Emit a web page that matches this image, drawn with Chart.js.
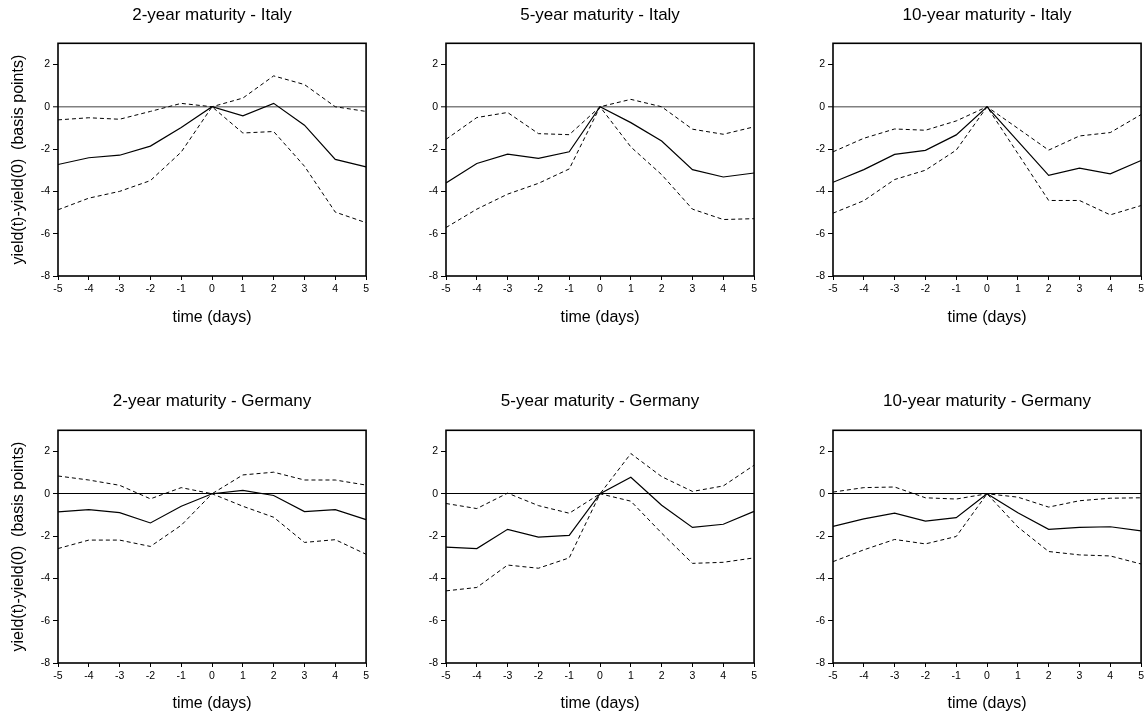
<!DOCTYPE html>
<html>
<head>
<meta charset="utf-8">
<title>Yield changes around announcements</title>
<script src="https://cdn.jsdelivr.net/npm/chart.js@4.4.0/dist/chart.umd.min.js"></script>
<style>
    body { margin: 0; background: #fff; width: 1147px; height: 718px; position: relative; overflow: hidden; }
    canvas { position: absolute; }
</style>
</head>
<body>
<canvas id="it2" width="372" height="330" style="left:0px;top:0px"></canvas>
<canvas id="it5" width="372" height="330" style="left:388px;top:0px"></canvas>
<canvas id="it10" width="372" height="330" style="left:775px;top:0px"></canvas>
<canvas id="de2" width="372" height="330" style="left:0px;top:387px"></canvas>
<canvas id="de5" width="372" height="330" style="left:388px;top:387px"></canvas>
<canvas id="de10" width="372" height="330" style="left:775px;top:387px"></canvas>
<script>
// dias em torno do evento
const days = [-5, -4, -3, -2, -1, 0, 1, 2, 3, 4, 5];
const yTicks = [-8, -6, -4, -2, 0, 2];

// Itália
const it2Mean  = [-2.73, -2.41, -2.29, -1.86, -0.98, 0, -0.43, 0.16, -0.87, -2.49, -2.84];
const it2Upper = [-0.62, -0.52, -0.59, -0.22, 0.16, 0, 0.41, 1.46, 1.05, 0.00, -0.22];
const it2Lower = [-4.87, -4.32, -4.00, -3.49, -2.14, 0, -1.24, -1.17, -2.81, -4.98, -5.48];

const it5Mean  = [-3.60, -2.68, -2.24, -2.44, -2.13, 0, -0.75, -1.62, -2.97, -3.32, -3.13];
const it5Upper = [-1.54, -0.51, -0.27, -1.27, -1.32, 0, 0.35, 0.00, -1.06, -1.30, -0.95];
const it5Lower = [-5.71, -4.84, -4.13, -3.62, -2.94, 0, -1.90, -3.21, -4.84, -5.33, -5.29];

const it10Mean  = [-3.57, -2.97, -2.25, -2.06, -1.33, 0, -1.62, -3.24, -2.90, -3.17, -2.54];
const it10Upper = [-2.13, -1.49, -1.05, -1.11, -0.67, 0, -1.02, -2.05, -1.38, -1.22, -0.37];
const it10Lower = [-5.03, -4.44, -3.44, -3.00, -2.05, 0, -2.21, -4.43, -4.43, -5.11, -4.67];

// Alemanha
const de2Mean  = [-0.86, -0.75, -0.89, -1.38, -0.59, 0, 0.16, -0.08, -0.84, -0.75, -1.22];
const de2Upper = [0.84, 0.65, 0.40, -0.24, 0.29, 0, 0.89, 1.02, 0.65, 0.65, 0.41];
const de2Lower = [-2.59, -2.19, -2.19, -2.49, -1.49, 0, -0.59, -1.11, -2.30, -2.17, -2.86];

const de5Mean  = [-2.52, -2.59, -1.68, -2.05, -1.97, 0, 0.78, -0.54, -1.59, -1.44, -0.83];
const de5Upper = [-0.46, -0.70, 0.03, -0.56, -0.92, 0, 1.90, 0.81, 0.11, 0.37, 1.35];
const de5Lower = [-4.59, -4.43, -3.37, -3.52, -3.03, 0, -0.35, -1.86, -3.29, -3.24, -3.03];

const de10Mean  = [-1.54, -1.19, -0.92, -1.29, -1.13, 0, -0.90, -1.68, -1.59, -1.56, -1.75];
const de10Upper = [0.08, 0.29, 0.32, -0.19, -0.25, 0, -0.16, -0.63, -0.33, -0.21, -0.19];
const de10Lower = [-3.21, -2.65, -2.16, -2.37, -2.02, 0, -1.57, -2.73, -2.89, -2.94, -3.32];

const FONT = '"Liberation Sans", Arial, sans-serif';

// moldura preta em volta da área do gráfico
const boxPlugin = {
    id: 'box',
    afterDraw(chart) {
        const a = chart.chartArea;
        const ctx = chart.ctx;
        ctx.save();
        ctx.strokeStyle = '#000';
        ctx.lineWidth = 1.6;
        ctx.strokeRect(a.left, a.top, a.right - a.left, a.bottom - a.top);
        ctx.restore();
    }
};

function toPoints(values) {
    return days.map((d, i) => ({ x: d, y: values[i] }));
}

function renderPanel(elementId, title, mean, upper, lower, opts) {
    const ctx = document.getElementById(elementId);
    if (!ctx) return;

    const dashed = data => ({
        data: toPoints(data),
        borderColor: '#000',
        borderWidth: 1,
        borderDash: [4, 3],
        pointRadius: 0,
        fill: false,
        tension: 0
    });

    new Chart(ctx, {
        type: 'line',
        data: {
            datasets: [
                { data: toPoints(mean), borderColor: '#000', borderWidth: 1.2, pointRadius: 0, fill: false, tension: 0 },
                dashed(upper),
                dashed(lower)
            ]
        },
        options: {
            responsive: false,
            animation: false,
            layout: { padding: { left: 0, right: 5, top: 0, bottom: 0 } },
            plugins: {
                legend: { display: false },
                tooltip: { enabled: false },
                title: {
                    display: true,
                    fullSize: false,
                    text: title,
                    color: '#000',
                    font: { family: FONT, size: 17, weight: 'normal' },
                    padding: { top: opts.titleTop, bottom: 43.3 - opts.titleTop - 20.4 }
                }
            },
            scales: {
                x: {
                    type: 'linear',
                    min: -5,
                    max: 5,
                    afterFit: scale => { scale.height = 54; },
                    border: { display: false },
                    grid: { drawOnChartArea: false, color: '#000', tickColor: '#000', tickLength: 4, tickWidth: 1 },
                    ticks: {
                        stepSize: 1,
                        autoSkip: false,
                        maxRotation: 0,
                        padding: 3,
                        color: '#000',
                        font: { family: FONT, size: 10.5 }
                    },
                    title: {
                        display: true,
                        text: 'time (days)',
                        color: '#000',
                        font: { family: FONT, size: 16 },
                        padding: { top: 0, bottom: opts.xTitleBottom }
                    }
                },
                y: {
                    type: 'linear',
                    min: -8,
                    max: 3,
                    afterFit: scale => { scale.width = 58; },
                    afterBuildTicks: scale => { scale.ticks = yTicks.map(v => ({ value: v })); },
                    border: { display: false },
                    grid: {
                        drawOnChartArea: true,
                        color: c => (c.tick && c.tick.value === 0) ? opts.zeroColor : 'rgba(0,0,0,0)',
                        lineWidth: c => (c.tick && c.tick.value === 0) ? opts.zeroWidth : 1,
                        tickColor: '#000',
                        tickLength: 5,
                        tickWidth: 1
                    },
                    ticks: {
                        padding: 3,
                        color: '#000',
                        font: { family: FONT, size: 10.5 }
                    },
                    title: {
                        display: opts.showYTitle,
                        text: 'yield(t)-yield(0)  (basis points)',
                        color: '#000',
                        font: { family: FONT, size: 16 },
                        padding: { top: 9, bottom: 0 }
                    }
                }
            }
        },
        plugins: [boxPlugin]
    });
}

const topRow = { titleTop: 4.8, xTitleBottom: 3, zeroColor: '#808080', zeroWidth: 1.6 };
const bottomRow = { titleTop: 4, xTitleBottom: 4, zeroColor: '#000', zeroWidth: 1 };

renderPanel('it2', '2-year maturity - Italy', it2Mean, it2Upper, it2Lower, { ...topRow, showYTitle: true });
renderPanel('it5', '5-year maturity - Italy', it5Mean, it5Upper, it5Lower, { ...topRow, showYTitle: false });
renderPanel('it10', '10-year maturity - Italy', it10Mean, it10Upper, it10Lower, { ...topRow, showYTitle: false });
renderPanel('de2', '2-year maturity - Germany', de2Mean, de2Upper, de2Lower, { ...bottomRow, showYTitle: true });
renderPanel('de5', '5-year maturity - Germany', de5Mean, de5Upper, de5Lower, { ...bottomRow, showYTitle: false });
renderPanel('de10', '10-year maturity - Germany', de10Mean, de10Upper, de10Lower, { ...bottomRow, showYTitle: false });
</script>
</body>
</html>
